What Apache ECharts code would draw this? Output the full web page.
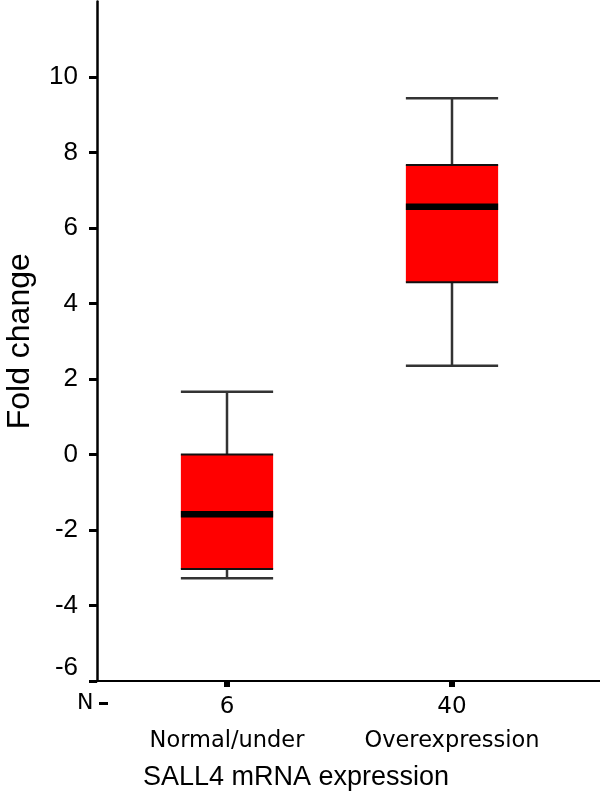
<!DOCTYPE html>
<html><head><meta charset="utf-8">
<script src="https://cdn.jsdelivr.net/npm/echarts@6/dist/echarts.min.js"></script>
<style>html,body{margin:0;padding:0;background:#fff}#c{width:600px;height:796px}</style>
</head><body><div id="c"></div>
<script>
// ---- data ----
const categories = ['Normal/under', 'Overexpression'];
const counts = ['6', '40'];
const mins = [-3.28, 2.35];
const q1s = [-3.03, 4.56];
const medians = [-1.58, 6.56];
const q3s = [0.0, 7.67];
const maxs = [1.66, 9.44];
const yMin = -6, yMax = 12, yInterval = 2;
const yName = 'Fold change';
const xName = 'SALL4 mRNA expression';
const nLabel = 'N';

const boxData = categories.map((c, i) => [i, mins[i], q1s[i], medians[i], q3s[i], maxs[i]]);

const chart = echarts.init(document.getElementById('c'), null, {renderer: 'canvas'});

function renderBox(params, api) {
  const x = api.value(0);
  const pMin = api.coord([x, api.value(1)]);
  const pQ1 = api.coord([x, api.value(2)]);
  const pMed = api.coord([x, api.value(3)]);
  const pQ3 = api.coord([x, api.value(4)]);
  const pMax = api.coord([x, api.value(5)]);
  const half = api.size([1, 0])[0] * 0.205;
  const cx = pMin[0];
  const wh = {stroke: '#333', lineWidth: 2.5};
  const edge = {stroke: '#111', lineWidth: 2};
  return {
    type: 'group',
    children: [
      {type: 'line', shape: {x1: cx, y1: pMax[1], x2: cx, y2: pQ3[1]}, style: wh},
      {type: 'line', shape: {x1: cx, y1: pQ1[1], x2: cx, y2: pMin[1]}, style: wh},
      {type: 'line', shape: {x1: cx - half, y1: pMax[1], x2: cx + half, y2: pMax[1]}, style: wh},
      {type: 'line', shape: {x1: cx - half, y1: pMin[1], x2: cx + half, y2: pMin[1]}, style: wh},
      {type: 'rect', shape: {x: cx - half, y: pQ3[1], width: 2 * half, height: pQ1[1] - pQ3[1]}, style: {fill: '#ff0000'}},
      {type: 'line', shape: {x1: cx - half, y1: pQ3[1], x2: cx + half, y2: pQ3[1]}, style: edge},
      {type: 'line', shape: {x1: cx - half, y1: pQ1[1], x2: cx + half, y2: pQ1[1]}, style: edge},
      {type: 'line', shape: {x1: cx - half, y1: pMed[1], x2: cx + half, y2: pMed[1]}, style: {stroke: '#000', lineWidth: 6.5}}
    ]
  };
}

const option = {
  backgroundColor: '#fff',
  animation: false,
  grid: [
    {left: 114.5, right: 35.5, top: 1.5, bottom: 115, outerBoundsMode: 'none', containLabel: false},
    {left: 97, right: 0, top: 1.5, bottom: 115, outerBoundsMode: 'none', containLabel: false}
  ],
  xAxis: [
    {
      type: 'category', gridIndex: 0, data: categories,
      axisLine: {show: false, onZero: false},
      axisTick: {show: true, alignWithLabel: true, length: 6, lineStyle: {color: '#000', width: 6}},
      axisLabel: {
        margin: 9,
        formatter: function (v, i) { return '{n|' + counts[i] + '}\n{c|' + v + '}'; },
        rich: {
          n: {fontFamily: 'DejaVu Sans', fontSize: 23, color: '#000', lineHeight: 34},
          c: {fontFamily: 'DejaVu Sans', fontSize: 22.5, color: '#000', lineHeight: 34}
        }
      },
      name: xName, nameLocation: 'middle', nameGap: 83,
      nameTextStyle: {fontFamily: 'Liberation Sans', fontSize: 27, color: '#000', padding: [0, 87, 0, 0]}
    },
    {
      type: 'value', gridIndex: 1, min: 0, max: 1,
      axisLine: {show: true, onZero: false, lineStyle: {color: '#000', width: 2}},
      axisTick: {show: false}, axisLabel: {show: false}, splitLine: {show: false}
    }
  ],
  yAxis: [
    {
      type: 'value', gridIndex: 0, min: yMin, max: yMax, interval: yInterval,
      offset: 17.5,
      axisLine: {show: true, onZero: false, lineStyle: {color: '#000', width: 2.5}},
      axisTick: {show: true, length: 8, lineStyle: {color: '#000', width: 3}},
      splitLine: {show: false},
      axisLabel: {
        margin: 19, showMaxLabel: false,
        fontFamily: 'Liberation Sans', fontSize: 26, color: '#000',
        formatter: function (v) { return v === yMin ? '{m|' + v + '}' : String(v); },
        rich: {m: {fontFamily: 'Liberation Sans', fontSize: 26, color: '#000', padding: [0, 0, 26, 0]}}
      },
      name: yName, nameLocation: 'middle', nameGap: 61,
      nameTextStyle: {fontFamily: 'Liberation Sans', fontSize: 32, color: '#000'}
    },
    {
      type: 'value', gridIndex: 1, show: false, min: yMin, max: yMax
    }
  ],
  graphic: [
    {type: 'text', left: 77, top: 692, style: {text: nLabel, fontFamily: 'DejaVu Sans', fontSize: 22, fill: '#000'}},
    {type: 'rect', left: 99, top: 702, shape: {width: 9, height: 3}, style: {fill: '#000'}}
  ],
  series: [
    {
      type: 'custom', xAxisIndex: 0, yAxisIndex: 0,
      renderItem: renderBox,
      encode: {x: 0, y: [1, 2, 3, 4, 5]},
      data: boxData
    }
  ]
};
chart.setOption(option);
</script>
</body></html>
